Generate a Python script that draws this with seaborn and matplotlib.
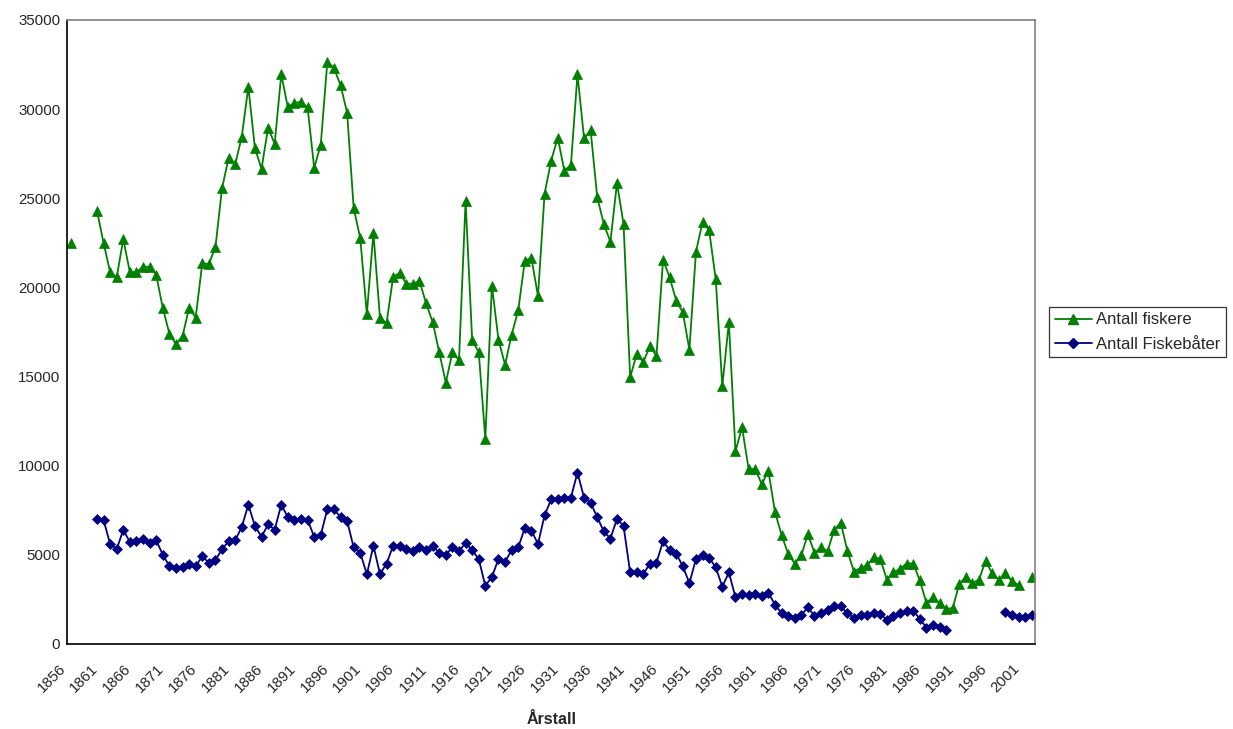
import numpy as np
import pandas as pd
import matplotlib
matplotlib.use("Agg")
import matplotlib.pyplot as plt
import matplotlib.transforms as mtransforms
from matplotlib.lines import Line2D
import seaborn as sns

nan = np.nan
years = list(range(1856, 2003))

fiskere = [
    22500, nan, nan, nan, 24300, 22500, 20850, 20550, 22700, 20850,
    20850, 21150, 21150, 20700, 18850, 17400, 16800, 17250, 18850, 18300,
    21350, 21300, 22250, 25550, 27250, 26900, 28450, 31250, 27800, 26650,
    28950, 28050, 31950, 30100, 30350, 30400, 30100, 26700, 28000, 32650,
    32300, 31350, 29800, 24450, 22750, 18500, 23050, 18250, 18000, 20600,
    20800, 20200, 20200, 20350, 19100, 18050, 16350, 14650, 16350, 15900,
    24850, 17050, 16350, 11500, 20100, 17050, 15650, 17350, 18700, 21500,
    21650, 19500, 25250, 27100, 28400, 26550, 26850, 31950, 28350, 28800,
    25050, 23550, 22550, 25850, 23550, 14950, 16250, 15800, 16700, 16150,
    21550, 20550, 19250, 18600, 16500, 22000, 23650, 23200, 20450, 14450,
    18050, 10800, 12150, 9800, 9800, 8950, 9700, 7400, 6100, 5050,
    4500, 4950, 6150, 5100, 5400, 5200, 6400, 6800, 5200, 4050,
    4250, 4400, 4850, 4750, 3600, 4000, 4200, 4500, 4500, 3550,
    2300, 2600, 2300, 1950, 2000, 3350, 3750, 3400, 3600, 4650,
    3950, 3600, 3950, 3500, 3300, nan, 3750,
]

baater = [
    nan, nan, nan, nan, 7000, 6950, 5600, 5300, 6400, 5700,
    5750, 5900, 5650, 5800, 5000, 4350, 4250, 4300, 4450, 4350,
    4900, 4550, 4700, 5300, 5750, 5800, 6550, 7800, 6600, 6000,
    6700, 6400, 7800, 7100, 6950, 7000, 6950, 6000, 6100, 7550,
    7550, 7100, 6900, 5400, 5100, 3900, 5500, 3900, 4500, 5500,
    5500, 5300, 5200, 5400, 5250, 5500, 5100, 5000, 5400, 5200,
    5650, 5250, 4750, 3250, 3750, 4750, 4600, 5250, 5400, 6500,
    6350, 5600, 7200, 8100, 8100, 8200, 8200, 9600, 8200, 7900,
    7100, 6300, 5900, 7000, 6600, 4000, 4000, 3900, 4500, 4550,
    5750, 5250, 5050, 4350, 3400, 4750, 5000, 4800, 4300, 3200,
    4000, 2600, 2800, 2750, 2800, 2650, 2850, 2200, 1700, 1550,
    1450, 1600, 2050, 1550, 1750, 1900, 2100, 2100, 1700, 1450,
    1600, 1600, 1750, 1650, 1350, 1550, 1700, 1850, 1850, 1400,
    900, 1050, 950, 750, nan, nan, nan, nan, nan, nan,
    nan, nan, 1800, 1600, 1500, 1500, 1600,
]

tick_labels = [str(y) for y in range(1856, 2002, 5)]

sns.set_style("white")
plt.rcParams["font.family"] = ["Liberation Sans", "DejaVu Sans"]


def segments(values):
    # split a series at the missing years so the line breaks there
    df = pd.DataFrame({"year": years, "value": values})
    df["seg"] = df["value"].isna().cumsum()
    return df.dropna()


fig = plt.figure(figsize=(12.33, 7.29), dpi=100)
ax = fig.add_axes([0.0546, 0.117, 0.7848, 0.8556])

green = "#008000"
navy = "#000080"

sns.lineplot(data=segments(fiskere), x="year", y="value", units="seg",
             estimator=None, color=green, marker="^", markersize=7.5,
             markeredgecolor=green, markeredgewidth=0.5, linewidth=1.3, ax=ax)
sns.lineplot(data=segments(baater), x="year", y="value", units="seg",
             estimator=None, color=navy, marker="D", markersize=5,
             markeredgecolor=navy, markeredgewidth=0.5, linewidth=1.3, ax=ax)

ax.set_xlim(1855.5, 2002.5)
ax.set_ylim(0, 35000)
ax.set_yticks(range(0, 35001, 5000))
ax.set_xticks([y - 0.5 for y in range(1856, 2002, 5)])
ax.set_xticklabels(tick_labels, rotation=45, ha="right", va="center",
                   rotation_mode="anchor")
ax.tick_params(axis="both", which="both", direction="out", length=3.6,
               width=1, color="#808080", labelsize=10.8, pad=1.5)
ax.tick_params(axis="x", pad=13)
# nudge the slanted year labels a little to the left, as in the original
shift = mtransforms.ScaledTranslation(-3 / 72, 0, fig.dpi_scale_trans)
for lab in ax.get_xticklabels():
    lab.set_transform(lab.get_transform() + shift)
ax.set_xlabel("Årstall", fontsize=11.5, fontweight="bold", labelpad=12)
ax.set_ylabel("")

for side in ["top", "right"]:
    ax.spines[side].set_color("#808080")
    ax.spines[side].set_linewidth(1.2)
for side in ["left", "bottom"]:
    ax.spines[side].set_color("black")
    ax.spines[side].set_linewidth(1.2)

handles = [
    Line2D([], [], color=green, marker="^", markersize=7, linewidth=1.3,
           label="Antall fiskere"),
    Line2D([], [], color=navy, marker="D", markersize=5, linewidth=1.3,
           label="Antall Fiskebåter"),
]
leg = fig.legend(handles=handles, loc="center left",
                 bbox_to_anchor=(1049 / 1233, 1 - 332 / 729),
                 fontsize=12, frameon=True, fancybox=False, edgecolor="black",
                 handlelength=2.2, borderpad=0.35, labelspacing=0.55,
                 handletextpad=0.25, borderaxespad=0)
leg.get_frame().set_linewidth(0.9)

fig.savefig("out.png", dpi=100, facecolor="white")
